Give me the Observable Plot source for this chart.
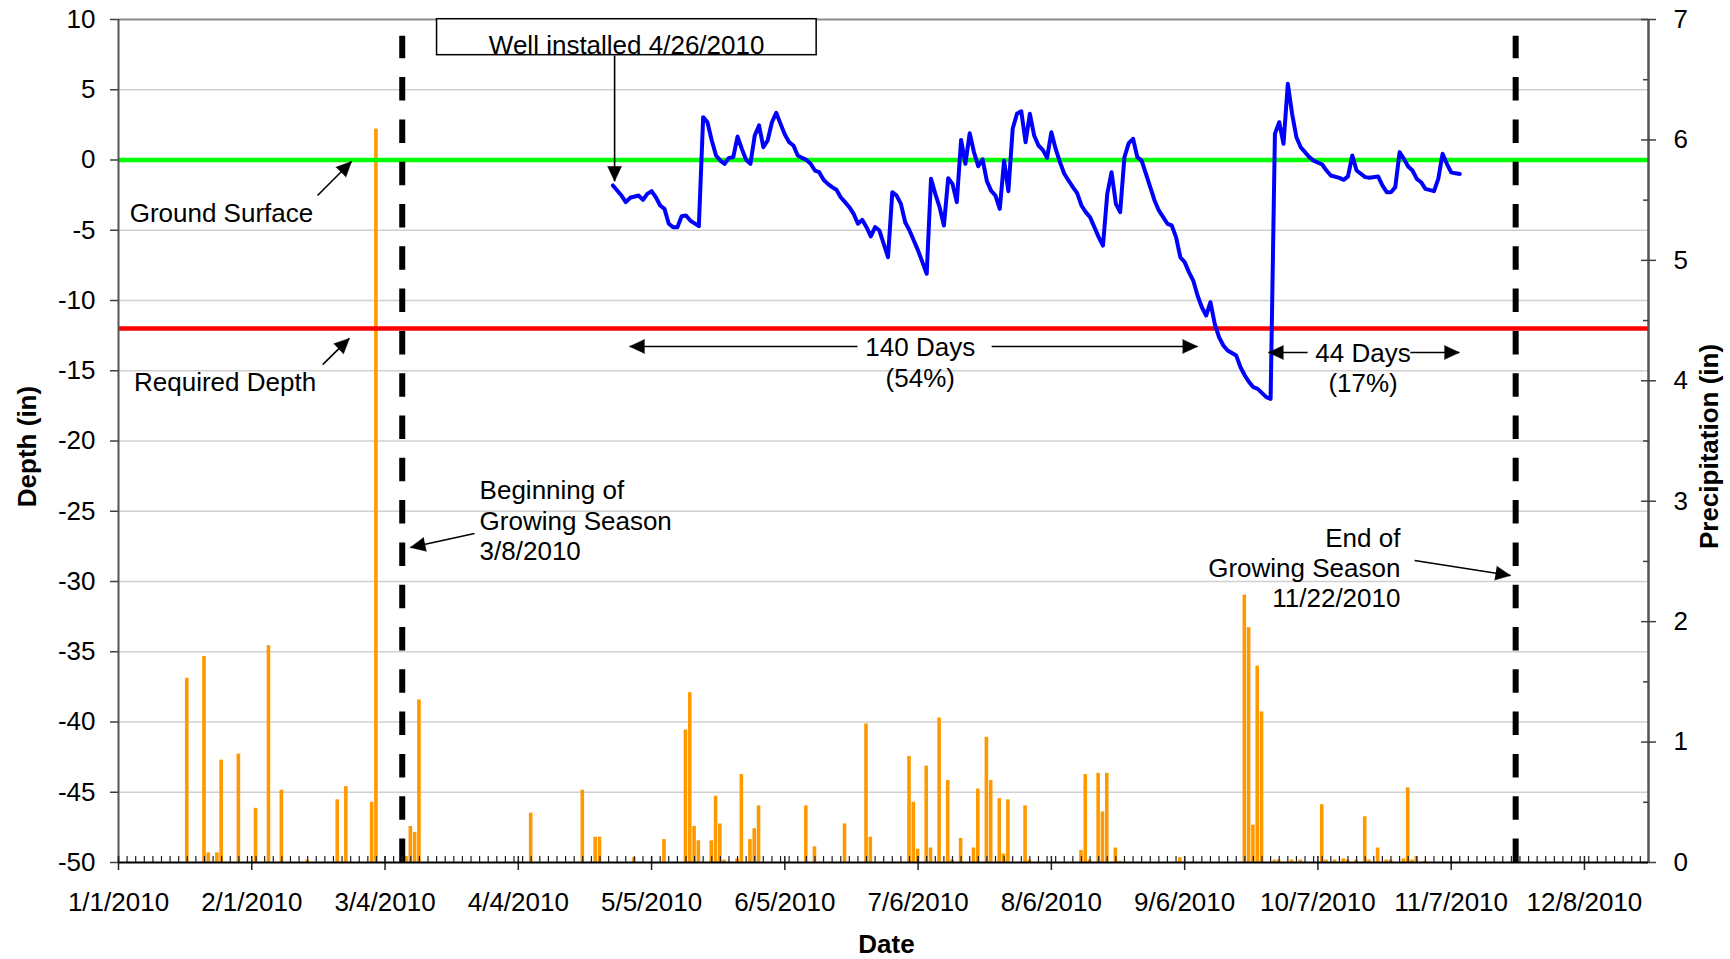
<!DOCTYPE html>
<html>
<head>
<meta charset="utf-8">
<script src="https://cdn.jsdelivr.net/npm/d3@7"></script>
<script src="https://cdn.jsdelivr.net/npm/@observablehq/plot@0.6"></script>
<style>
  html, body { margin: 0; padding: 0; background: #ffffff; }
  #chart svg { display: block; }
</style>
</head>
<body>
<div id="chart"></div>
<script>
// ---------- DATA (days counted from 1 Jan 2010, 0 = Jan 1) ----------
const depthDay = [115,117,118,119,121,122,123,124,125,126,127,128,129,130,131,132,133,135,136,137,138,139,140,141,142,143,144,145,146,147,148,149,150,151,152,153,154,155,156,157,158,159,160,161,162,163,164,165,166,167,168,169,170,171,172,173,174,175,176,177,178,179,180,181,182,183,184,185,186,187,188,189,190,191,192,193,194,195,196,197,198,199,200,201,202,203,204,205,206,207,208,209,210,211,212,213,214,215,216,217,218,219,220,221,222,223,224,225,226,227,228,229,230,231,232,233,234,235,236,237,238,239,240,241,242,244,245,246,247,248,249,250,251,252,253,254,255,256,257,258,260,261,262,263,264,265,267,268,269,270,271,272,273,274,275,276,277,278,280,281,282,284,285,286,287,288,290,291,293,294,295,296,297,298,299,300,301,302,303,304,306,307,308,309,310,311,312];
const depthIn = [-1.81,-2.53,-3.00,-2.69,-2.53,-2.84,-2.41,-2.22,-2.65,-3.24,-3.48,-4.54,-4.78,-4.78,-4.00,-3.95,-4.31,-4.71,3.05,2.69,1.39,0.32,-0.04,-0.27,0.15,0.20,1.67,0.79,0.01,-0.27,1.74,2.46,0.91,1.39,2.69,3.36,2.57,1.81,1.27,1.03,0.32,0.15,0.01,-0.27,-0.75,-0.87,-1.41,-1.70,-1.93,-2.12,-2.65,-3.00,-3.36,-3.83,-4.54,-4.26,-4.78,-5.44,-4.78,-5.02,-5.97,-6.92,-2.29,-2.53,-3.12,-4.43,-5.02,-5.73,-6.45,-7.27,-8.10,-1.34,-2.41,-3.36,-4.66,-1.30,-1.70,-3.00,1.43,-0.27,1.90,0.55,-0.45,0.05,-1.50,-2.20,-2.53,-3.48,-0.04,-2.22,2.22,3.29,3.47,1.27,3.29,1.74,1.03,0.72,0.15,1.98,0.79,-0.15,-0.98,-1.46,-1.93,-2.36,-3.24,-3.71,-4.07,-4.78,-5.49,-6.09,-2.41,-0.87,-3.12,-3.71,0.20,1.20,1.51,0.20,-0.04,-0.98,-1.93,-2.88,-3.59,-4.54,-4.66,-5.49,-6.92,-7.27,-7.98,-8.58,-9.64,-10.48,-11.07,-10.12,-11.66,-12.61,-13.20,-13.56,-13.92,-14.75,-15.34,-15.81,-16.17,-16.29,-16.88,-17.00,1.86,2.69,1.15,5.42,3.29,1.62,0.91,0.56,0.20,-0.04,-0.32,-0.75,-1.10,-1.27,-1.41,-1.17,0.32,-0.75,-1.22,-1.27,-1.17,-1.81,-2.29,-2.29,-1.93,0.56,0.08,-0.46,-0.75,-1.34,-1.58,-2.05,-2.22,-1.34,0.44,-0.27,-0.87,-0.95,-1.00];

const precipDay = [16,20,21,23,24,28,32,35,38,44,51,53,59,60,67,68,69,70,96,108,111,112,120,127,132,133,134,135,138,139,140,141,144,145,147,148,149,160,162,169,174,175,184,185,186,188,189,191,193,194,196,199,200,202,203,205,206,207,211,212,224,225,226,228,229,230,232,233,247,262,263,264,265,266,269,270,273,275,280,281,283,285,286,288,290,291,293,295,296,299,300,301,302,304];
const precipIn = [1.53,1.71,0.08,0.08,0.85,0.90,0.45,1.80,0.60,0.02,0.52,0.63,0.50,6.09,0.05,0.30,0.25,1.35,0.41,0.60,0.21,0.21,0.04,0.19,1.10,1.41,0.30,0.18,0.18,0.55,0.32,0.02,0.03,0.73,0.19,0.28,0.47,0.47,0.13,0.32,1.15,0.21,0.88,0.50,0.11,0.80,0.12,1.20,0.68,0.02,0.20,0.12,0.61,1.04,0.68,0.53,0.07,0.52,0.47,0.02,0.10,0.73,0.02,0.74,0.42,0.74,0.12,0.01,0.04,2.22,1.95,0.31,1.63,1.25,0.02,0.02,0.02,0.02,0.48,0.02,0.02,0.03,0.02,0.02,0.38,0.02,0.12,0.02,0.02,0.03,0.62,0.02,0.05,0.01];

const xTickLabels = ["1/1/2010","2/1/2010","3/4/2010","4/4/2010","5/5/2010","6/5/2010","7/6/2010","8/6/2010","9/6/2010","10/7/2010","11/7/2010","12/8/2010"];
const depthTicks = [-50,-45,-40,-35,-30,-25,-20,-15,-10,-5,0,5,10];
const precipTicks = [0,1,2,3,4,5,6,7];
const precipMinorTicks = [0.5,1.5,2.5,3.5,4.5,5.5,6.5];
const groundSurface = 0;
const requiredDepth = -12;
const seasonDates = ["2010-03-08","2010-11-22"];

// ---------- ANNOTATIONS (day from Jan 1, depth in inches) ----------
const notesStart = [
  {t: "Ground Surface", d: 2.6, y: -4.38},
  {t: "Required Depth", d: 3.6, y: -16.41},
  {t: "Beginning of", d: 84.0, y: -24.13},
  {t: "Growing Season", d: 84.0, y: -26.30},
  {t: "3/8/2010", d: 84.0, y: -28.47}
];
const notesMiddle = [
  {t: "Well installed 4/26/2010", d: 118.2, y: 7.53},
  {t: "140 Days", d: 186.5, y: -13.95},
  {t: "(54%)", d: 186.5, y: -16.19},
  {t: "44 Days", d: 289.5, y: -14.41},
  {t: "(17%)", d: 289.5, y: -16.51}
];
const notesEnd = [
  {t: "End of", d: 298.2, y: -27.51},
  {t: "Growing Season", d: 298.2, y: -29.68},
  {t: "11/22/2010", d: 298.2, y: -31.85}
];
const arrows = [
  {d1: 115.4, y1: 7.44, d2: 115.4, y2: -1.51, rot: 180},
  {d1: 46.3, y1: -2.53, d2: 54.2, y2: -0.11, rot: 45},
  {d1: 47.5, y1: -14.56, d2: 53.7, y2: -12.70, rot: 46},
  {d1: 82.8, y1: -26.58, d2: 67.9, y2: -27.58, rot: 258},
  {d1: 301.5, y1: -28.51, d2: 323.8, y2: -29.57, rot: 99},
  {d1: 171.9, y1: -13.27, d2: 118.9, y2: -13.27, rot: 270},
  {d1: 203.1, y1: -13.27, d2: 251.0, y2: -13.27, rot: 90},
  {d1: 276.6, y1: -13.70, d2: 267.5, y2: -13.70, rot: 270},
  {d1: 300.5, y1: -13.70, d2: 311.9, y2: -13.70, rot: 90}
];
const wellBox = [{d1: 74.1, d2: 162.4, y1: 7.46, y2: 10.02}];

// ---------- helpers ----------
const START = new Date(Date.UTC(2010, 0, 1));
const day = d => new Date(START.getTime() + d * 864e5);
const X_END = day(355.9);
const P2D = 60 / 7;                 // 1 inch precipitation in depth-axis units
const toDepth = p => -50 + p * P2D;

const depth = depthDay.map((d, i) => ({date: day(d), value: depthIn[i]}));
const precip = precipDay.map((d, i) => ({date: day(d), value: precipIn[i]}));
const parseTick = d3.utcParse("%m/%d/%Y");
const majorDates = xTickLabels.map(parseTick);
const minorDates = d3.range(0, 356, 2).map(day);
const seasons = seasonDates.map(d3.utcParse("%Y-%m-%d"));
const gridDepths = depthTicks.filter(v => v > -50 && v < 10);

const FONT = "'Liberation Sans', Arial, Helvetica, sans-serif";
const textOpts = {fontSize: 26, fill: "black", lineAnchor: "bottom", fontFamily: FONT};

const chart = Plot.plot({
  width: 1730,
  height: 959,
  marginLeft: 118,
  marginRight: 82,
  marginTop: 19,
  marginBottom: 97,
  x: {type: "utc", domain: [START, X_END]},
  y: {domain: [-50, 10]},
  style: {fontFamily: FONT, fontSize: "26px", color: "black", background: "white", overflow: "visible"},
  marks: [
    Plot.ruleY(gridDepths, {stroke: "#d0d0d0", strokeWidth: 1.5}),
    Plot.rect(precip, {
      x1: d => new Date(+d.date - 432e5),
      x2: d => new Date(+d.date + 432e5),
      y1: -50,
      y2: d => toDepth(d.value),
      fill: "#ff9900",
      insetLeft: 0.35, insetRight: 0.35
    }),
    Plot.ruleY([groundSurface], {stroke: "#00ff00", strokeWidth: 4.5}),
    Plot.ruleY([requiredDepth], {stroke: "#ff0000", strokeWidth: 4.5}),
    Plot.line(depth, {x: "date", y: "value", stroke: "#0000ff", strokeWidth: 4, strokeLinejoin: "round"}),
    Plot.ruleX(seasons, {y1: -50, y2: 8.8, stroke: "black", strokeWidth: 6, strokeDasharray: "23.5,18.8"}),

    // frame lines
    Plot.ruleY([10], {stroke: "#8c8c8c", strokeWidth: 2}),
    Plot.ruleX([START], {stroke: "#555555", strokeWidth: 2}),
    Plot.ruleX([X_END], {stroke: "#555555", strokeWidth: 2.5}),

    // left axis
    Plot.axisY(depthTicks, {anchor: "left", tickSize: 8, tickPadding: 15, tickFormat: d => String(d), stroke: "#404040", strokeWidth: 1.5, label: null}),
    // right axis (precipitation)
    Plot.axisY(precipTicks.map(toDepth), {anchor: "right", tickSize: 7, tickPadding: 18, tickFormat: v => String(Math.round((v + 50) / P2D)), stroke: "#404040", strokeWidth: 1.5, label: null}),
    Plot.axisY(precipTicks.map(toDepth), {anchor: "right", tickSize: -8, tickFormat: () => "", stroke: "#404040", strokeWidth: 1.5, label: null}),
    Plot.axisY(precipMinorTicks.map(toDepth), {anchor: "right", tickSize: -6, tickFormat: () => "", stroke: "#404040", strokeWidth: 1.5, label: null}),
    // bottom axis
    Plot.axisX(minorDates, {anchor: "bottom", tickSize: -6, tickFormat: () => "", stroke: "#222", strokeWidth: 1.2, label: null}),
    Plot.axisX(majorDates, {anchor: "bottom", tickSize: -6, tickFormat: () => "", stroke: "#222", strokeWidth: 1.5, label: null}),
    Plot.axisX(majorDates, {anchor: "bottom", tickSize: 8, tickPadding: 22, tickFormat: d => xTickLabels[majorDates.findIndex(m => +m === +d)] ?? d3.utcFormat("%-m/%-d/%Y")(d), stroke: "#222", strokeWidth: 1.5, label: null}),
    Plot.ruleY([-50], {stroke: "black", strokeWidth: 2}),

    // axis titles
    Plot.text(["Depth (in)"], {text: d => d, frameAnchor: "left", textAnchor: "middle", dx: -83, dy: 5.5, rotate: -90, fontWeight: "bold", ...textOpts}),
    Plot.text(["Precipitation (in)"], {text: d => d, frameAnchor: "right", textAnchor: "middle", dx: 69, dy: 5.5, rotate: -90, fontWeight: "bold", ...textOpts}),
    Plot.text(["Date"], {text: d => d, frameAnchor: "bottom", textAnchor: "middle", dx: 3, dy: 90, fontWeight: "bold", ...textOpts}),

    // annotations
    Plot.rect(wellBox, {x1: d => day(d.d1), x2: d => day(d.d2), y1: "y1", y2: "y2", fill: "white", stroke: "black", strokeWidth: 1.5}),
    Plot.link(arrows, {x1: d => day(d.d1), y1: "y1", x2: d => day(d.d2), y2: "y2", stroke: "black", strokeWidth: 1.6}),
    Plot.vector(arrows, {x: d => day(d.d2), y: "y2", rotate: "rot", length: 15, shape: "spike", r: 7, anchor: "end", fill: "black", stroke: "black", strokeWidth: 0.5}),
    Plot.text(notesStart, {x: d => day(d.d), y: "y", text: "t", textAnchor: "start", ...textOpts}),
    Plot.text(notesMiddle, {x: d => day(d.d), y: "y", text: "t", textAnchor: "middle", ...textOpts}),
    Plot.text(notesEnd, {x: d => day(d.d), y: "y", text: "t", textAnchor: "end", ...textOpts})
  ]
});

document.getElementById("chart").appendChild(chart);
</script>
</body>
</html>
